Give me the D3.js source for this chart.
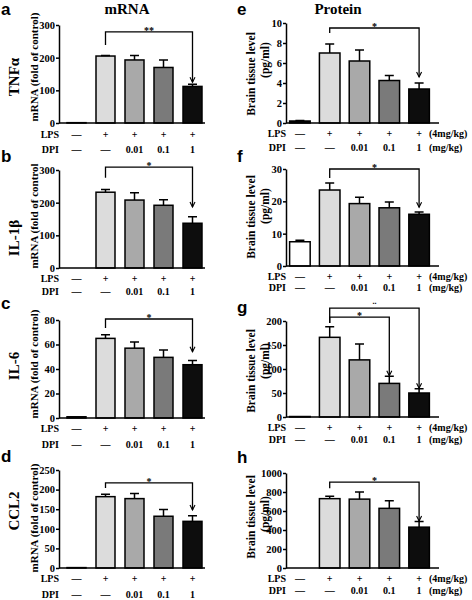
<!DOCTYPE html>
<html><head><meta charset="utf-8">
<script src="https://cdn.jsdelivr.net/npm/d3@7"></script>
<style>
body{margin:0;background:#fff}
svg text{font-family:"Liberation Serif","Times New Roman",serif;font-weight:bold;fill:#000}
</style></head>
<body><svg id="c" width="472" height="600"></svg>
<script>
// ---------- data ----------
const groups = ["Control","LPS","LPS+DPI 0.01","LPS+DPI 0.1","LPS+DPI 1"];
const lpsRow = ["—","+","+","+","+"];
const dpiRow = ["—","—","0.01","0.1","1"];

const tnfMrna = [1, 205, 193, 170, 112];
const tnfMrnaErr = [0, 2, 14, 23, 7];
const il1bMrna = [0, 232, 208, 192, 137];
const il1bMrnaErr = [0, 8, 22, 17, 20];
const il6Mrna = [1, 65, 57, 49.5, 43.5];
const il6MrnaErr = [0, 3, 5, 6, 3.5];
const ccl2Mrna = [1, 182, 177, 132, 119];
const ccl2MrnaErr = [0, 6, 13, 17, 14];

const tnfProt = [0.2, 7.0, 6.2, 4.25, 3.4];
const tnfProtErr = [0.05, 0.9, 1.1, 0.5, 0.6];
const il1bProt = [7.5, 23.5, 19.3, 18.0, 16.0];
const il1bProtErr = [0.5, 2.2, 2.0, 1.8, 0.7];
const il6Prot = [1, 166, 119, 70, 50];
const il6ProtErr = [0, 22, 33, 15, 9];
const ccl2Prot = [0, 730, 725, 628, 430];
const ccl2ProtErr = [0, 25, 75, 80, 60];

const ticksA = [0,100,200,300], ticksC = [0,20,40,60,80], ticksD = [0,50,100,150,200,250];
const ticksE = [0,2,4,6,8,10], ticksF = [0,10,20,30], ticksG = [0,50,100,150,200], ticksH = [0,200,400,600,800,1000];

// brackets: [fromIdx, toIdx, level, leftEnd, rightEnd, label] (data units)
const brA = [[1,4,279,239,125,"**"]];
const brB = [[1,4,309,276,187,"*"]];
const brC = [[1,4,80.8,73.5,54,"*"]];
const brD = [[1,4,217,204,148,"*"]];
const brE = [[1,4,9.5,9.0,4.6,"*"]];
const brF = [[1,4,30,27.2,18.2,"*"]];
const brG = [[1,4,227,196,60,".."],[1,3,208,196,86,"*"]];
const brH = [[1,4,904,840,495,"*"]];

const fills = ["#000","#dcdcdc","#a9a9a9","#7a7a7a","#0d0d0d"];

// ---------- layout ----------
const L = {ax:59, r0:62, r1:207, pad:0.345, end:205};
const R = {ax:286, r0:285, r1:434, pad:0.31, end:439};
const panels = [
 {side:L, top:25, bot:123, max:300, ticks:ticksA, v:tnfMrna, e:tnfMrnaErr, br:brA, lps:134, dpi:149, letter:"a", ly:15, gene:"TNFα", gy:77, ylab:"mRNA (fold of control)", yly:67},
 {side:L, top:170, bot:268, max:300, ticks:ticksA, v:il1bMrna, e:il1bMrnaErr, br:brB, lps:278, dpi:291, letter:"b", ly:162, gene:"IL-1β", gy:238, ylab:"mRNA (fold of control", yly:216},
 {side:L, top:320, bot:418, max:80, ticks:ticksC, v:il6Mrna, e:il6MrnaErr, br:brC, lps:428, dpi:444, letter:"c", ly:309, gene:"IL-6", gy:366, ylab:"mRNA (fold of control)", yly:364},
 {side:L, top:470, bot:568, max:250, ticks:ticksD, v:ccl2Mrna, e:ccl2MrnaErr, br:brD, lps:578, dpi:594, letter:"d", ly:462, gene:"CCL2", gy:511, ylab:"mRNA (fold of control)", yly:518},
 {side:R, top:23, bot:123, max:10, ticks:ticksE, v:tnfProt, e:tnfProtErr, br:brE, lps:133, dpi:147, letter:"e", ly:15, y1:74, y2:60, unit:true},
 {side:R, top:169, bot:266, max:30, ticks:ticksF, v:il1bProt, e:il1bProtErr, br:brF, lps:276, dpi:287, letter:"f", ly:162, y1:217, y2:206, unit:true, whiteCtrl:true},
 {side:R, top:321, bot:417, max:200, ticks:ticksG, v:il6Prot, e:il6ProtErr, br:brG, lps:427, dpi:439, letter:"g", ly:313, y1:371, y2:361, unit:true},
 {side:R, top:473, bot:568, max:1000, ticks:ticksH, v:ccl2Prot, e:ccl2ProtErr, br:brH, lps:578, dpi:590, letter:"h", ly:463, y1:517, y2:514, unit:true}
];

const svg = d3.select("#c");

svg.append("text").attr("x",127).attr("y",14).attr("text-anchor","middle").attr("font-size",15).text("mRNA");
svg.append("text").attr("x",338).attr("y",14).attr("text-anchor","middle").attr("font-size",15).text("Protein");

panels.forEach(p => {
  const s = p.side;
  const g = svg.append("g");
  const x = d3.scaleBand().domain(groups).range([s.r0, s.r1]).paddingInner(s.pad).paddingOuter(s.pad/2);
  const y = d3.scaleLinear().domain([0, p.max]).range([p.bot, p.top]);
  const cx = i => x(groups[i]) + x.bandwidth()/2;

  // panel letter
  svg.append("text").attr("x", s === L ? 1 : 237).attr("y", p.ly)
    .style("font-family","'Liberation Sans',Arial,sans-serif").attr("font-size",17).text(p.letter);

  // bars
  g.selectAll("rect.bar").data(p.v).join("rect")
    .attr("x",(d,i)=>x(groups[i])).attr("width",x.bandwidth())
    .attr("y",d=>y(d)).attr("height",d=>p.bot - y(d))
    .attr("fill",(d,i)=> (i===0 && p.whiteCtrl) ? "#fff" : fills[i])
    .attr("stroke","#000").attr("stroke-width",d=> d>0 ? 1.5 : 0);

  // error bars
  p.v.forEach((d,i)=>{
    const e = p.e[i]; if(!(e>0) || d<=0) return;
    const c = cx(i), yt = y(d+e);
    g.append("path").attr("d",`M${c},${y(d)}V${yt}M${c-4.5},${yt}H${c+4.5}`)
      .attr("stroke","#000").attr("stroke-width",1.5).attr("fill","none");
  });

  // y axis
  const ax = g.append("g").attr("transform",`translate(${s.ax},0)`)
    .call(d3.axisLeft(y).tickValues(p.ticks).tickFormat(d3.format("d")).tickSize(3).tickPadding(1).tickSizeOuter(0));
  ax.select(".domain").attr("stroke-width",1.5);
  ax.selectAll(".tick line").attr("stroke-width",1.5);
  ax.selectAll("text").attr("font-size",10.5).style("font-family","'Liberation Serif',serif").style("font-weight","bold");
  // baseline
  g.append("line").attr("x1",s.ax).attr("x2",s.end).attr("y1",p.bot).attr("y2",p.bot)
    .attr("stroke","#000").attr("stroke-width",1.5);

  // brackets
  p.br.forEach(b=>{
    const [i1,i2,lev,le,re,lab] = b;
    const x1 = cx(i1), x2 = cx(i2), yl = y(lev), y1 = y(le), y2 = y(re);
    g.append("path").attr("d",`M${x1},${y1}V${yl}H${x2}V${y2}`).attr("fill","none").attr("stroke","#000").attr("stroke-width",1.3);
    g.append("path").attr("d",`M${x2-2.5},${y2-5}L${x2},${y2}L${x2+2.5},${y2-5}`).attr("fill","none").attr("stroke","#000").attr("stroke-width",1.1);
    g.append("text").attr("x",(x1+x2)/2).attr("y",lab===".." ? yl-4 : yl+2).attr("text-anchor","middle")
      .attr("font-size", lab===".." ? 8 : 10).text(lab);
  });

  // condition rows
  const rowFont = 10;
  g.append("text").attr("x",s.ax).attr("y",p.lps).attr("dy","0.35em").attr("text-anchor","end").attr("font-size",rowFont).text("LPS");
  g.append("text").attr("x",s.ax).attr("y",p.dpi).attr("dy","0.35em").attr("text-anchor","end").attr("font-size",rowFont).text("DPI");
  g.selectAll("text.l").data(lpsRow).join("text").attr("class","l")
    .attr("x",(d,i)=>cx(i)).attr("y",p.lps).attr("dy","0.35em").attr("text-anchor","middle").attr("font-size",rowFont).text(d=>d);
  g.selectAll("text.dp").data(dpiRow).join("text").attr("class","dp")
    .attr("x",(d,i)=>cx(i)).attr("y",p.dpi).attr("dy","0.35em").attr("text-anchor","middle").attr("font-size",rowFont).text(d=>d);
  if (p.unit) {
    g.append("text").attr("x",429).attr("y",p.lps).attr("dy","0.35em").attr("font-size",rowFont).text("(4mg/kg)");
    g.append("text").attr("x",429).attr("y",p.dpi).attr("dy","0.35em").attr("font-size",rowFont).text("(mg/kg)");
  }

  // y labels
  if (s === L) {
    svg.append("text").attr("transform",`translate(19,${p.gy}) rotate(-90)`).attr("text-anchor","middle").attr("font-size",15).text(p.gene);
    svg.append("text").attr("transform",`translate(38,${p.yly}) rotate(-90)`).attr("text-anchor","middle").attr("font-size",11).text(p.ylab);
  } else {
    svg.append("text").attr("transform",`translate(255,${p.y1}) rotate(-90)`).attr("text-anchor","middle").attr("font-size",11.5).text("Brain tissue level");
    svg.append("text").attr("transform",`translate(269,${p.y2}) rotate(-90)`).attr("text-anchor","middle").attr("font-size",11.5).text("(pg/ml)");
  }
});
</script></body></html>
